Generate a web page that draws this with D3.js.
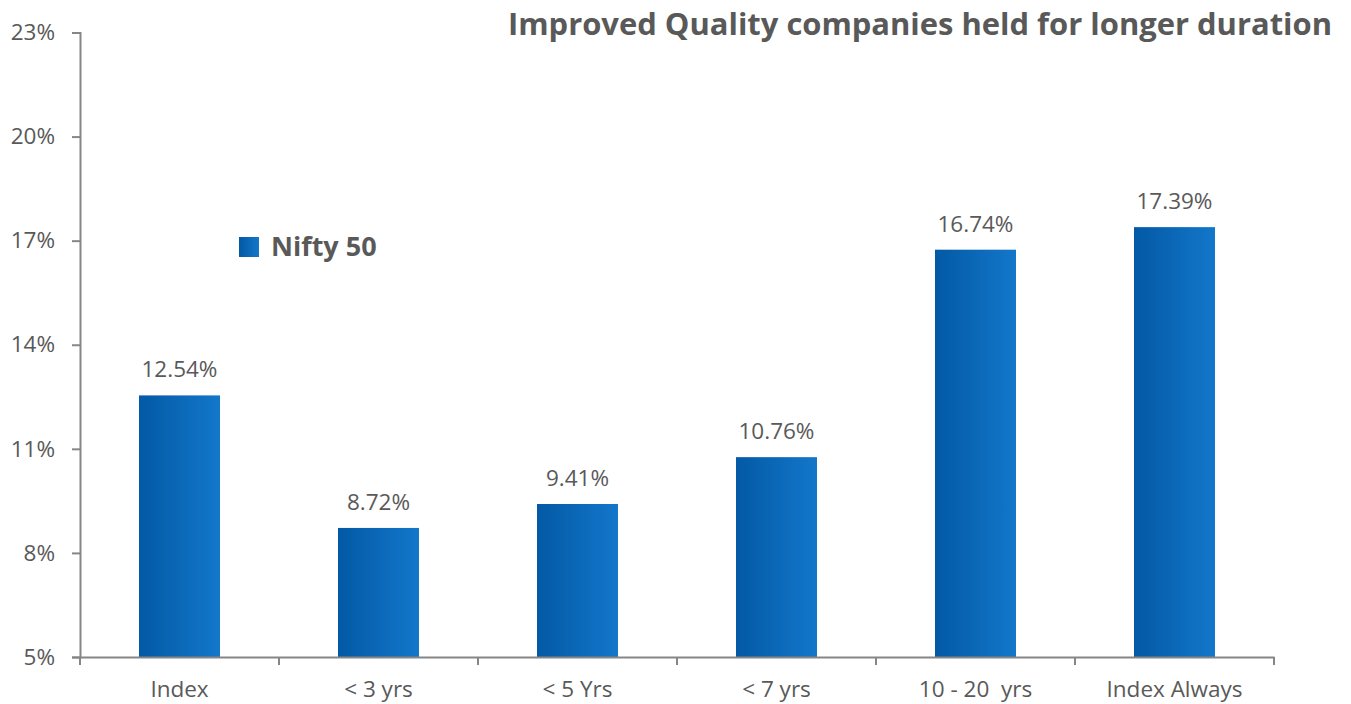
<!DOCTYPE html>
<html><head><meta charset="utf-8">
<script src="https://cdn.jsdelivr.net/npm/d3@7"></script>
<style>body{margin:0;background:#fff}svg{display:block}text{font-family:"Open Sans",sans-serif;fill:#595959}</style>
</head><body><svg id="c" width="1351" height="704"></svg>
<script>
const categories = ["Index", "< 3 yrs", "< 5 Yrs", "< 7 yrs", "10 - 20  yrs", "Index Always"];
const values = [12.54, 8.72, 9.41, 10.76, 16.74, 17.39];
const yTicks = [5, 8, 11, 14, 17, 20, 23];
const seriesName = "Nifty 50";
const title = "Improved Quality companies held for longer duration";

(function () {
const svg = d3.select("#c");
const mLeft = 80, mRight = 1274, mTop = 32.5, mBottom = 657;
const fs = "22.5px";
const x = d3.scaleBand().domain(categories).range([mLeft, mRight]).paddingInner(0.593).paddingOuter(0.2965);
const y = d3.scaleLinear().domain([5, 23]).range([mBottom, mTop]);

const defs = svg.append("defs");
const g = defs.append("linearGradient").attr("id", "bg").attr("x1", "0").attr("x2", "1").attr("y1", "0").attr("y2", "0");
g.append("stop").attr("offset", "0").attr("stop-color", "#0359A5");
g.append("stop").attr("offset", "1").attr("stop-color", "#1377CA");

// bars
svg.selectAll("rect.bar").data(values).join("rect").attr("class", "bar")
  .attr("x", (d, i) => x(categories[i])).attr("width", x.bandwidth())
  .attr("y", d => y(d)).attr("height", d => mBottom - y(d)).attr("fill", "url(#bg)");

// value labels
svg.selectAll("text.val").data(values).join("text").attr("class", "val")
  .attr("x", (d, i) => x(categories[i]) + x.bandwidth() / 2).attr("y", d => y(d) - 18)
  .attr("text-anchor", "middle").style("font-size", fs).text(d => d.toFixed(2) + "%");

// y axis
const ya = svg.append("g").attr("transform", `translate(${mLeft},0)`)
  .call(d3.axisLeft(y).tickValues(yTicks).tickSize(8).tickPadding(17).tickFormat(d => d + "%"));
ya.select(".domain").attr("stroke", "#868686").attr("stroke-width", 2);
ya.selectAll(".tick line").attr("stroke", "#868686").attr("stroke-width", 2);
ya.selectAll(".tick text").style("font-size", fs).attr("fill", "#595959").style("font-family", "'Open Sans',sans-serif");

// x axis
const xa = svg.append("g").attr("transform", `translate(0,${mBottom})`)
  .call(d3.axisBottom(x).tickSize(0).tickPadding(0));
xa.select(".domain").attr("stroke", "#868686").attr("stroke-width", 2);
xa.selectAll(".tick text").attr("y", 40).attr("dy", 0).style("font-size", fs).style("white-space", "pre")
  .attr("fill", "#595959").style("font-family", "'Open Sans',sans-serif");
// category boundary ticks
const bounds = categories.map(c => x(c) - x.step() * x.paddingInner() / 2).concat([mRight]);
bounds[0] = mLeft;
svg.selectAll("line.bt").data(bounds).join("line").attr("class", "bt")
  .attr("x1", d => d).attr("x2", d => d).attr("y1", mBottom).attr("y2", mBottom + 8)
  .attr("stroke", "#868686").attr("stroke-width", 2);

// legend
svg.append("rect").attr("x", 239).attr("y", 237).attr("width", 20).attr("height", 20).attr("fill", "url(#bg)");
svg.append("text").attr("x", 271).attr("y", 256).style("font-size", "27px").style("font-weight", "bold").text(seriesName);

// title
svg.append("text").attr("x", 1332).attr("y", 35).attr("text-anchor", "end")
  .style("font-size", "31px").style("font-weight", "bold")
  .attr("textLength", 824).attr("lengthAdjust", "spacingAndGlyphs").text(title);
})();
</script></body></html>
